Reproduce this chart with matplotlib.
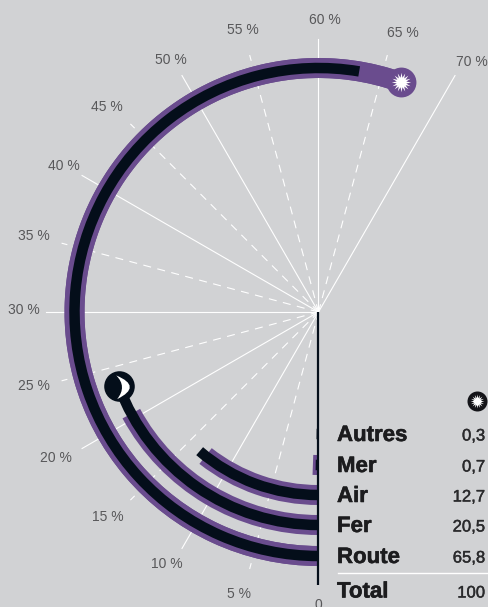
import numpy as np
import matplotlib
matplotlib.use("Agg")
import matplotlib.pyplot as plt
import matplotlib.patheffects as pe
from matplotlib.path import Path

modes = ["Autres", "Mer", "Air", "Fer", "Route"]
jour = [0, 0.7, 12.7, 20.5, 65.8]
nuit = [0.3, 0.35, 13.5, 23.2, 63.2]
rayons = [122, 153, 183, 213, 244]
valeurs = ["0,3", "0,7", "12,7", "20,5", "65,8"]
ticks = [0, 5, 10, 15, 20, 25, 30, 35, 40, 45, 50, 55, 60, 65, 70]
soleil_pos = 66.6
lune_pos = 23.2

BG = "#d1d2d4"
VIOLET = "#6a4c8e"
NOIR = "#040e1a"
W, H = 489, 607
CX, CY = 318.5, 312
RMAX = 318

# decalage des etiquettes en pixels (x, y vers le bas)
decalage = {0: (0, 0), 5: (-4, -1), 10: (-5, -2), 15: (-4, -2), 20: (-9, -1), 25: (-2, -2),
            30: (-2, -2), 35: (-2, 0), 40: (-1, 0), 45: (-4, 2), 50: (-1, 2), 55: (0, 1),
            60: (6, 1), 65: (9, 4), 70: (7, 4)}


def to_theta(p):
    return np.radians(np.asarray(p, dtype=float) * 3)


def croissant():
    verts = [(-0.25, 0.85), (1.8, 0), (-0.18, -0.97), (0.6, 0), (-0.25, 0.85), (-0.25, 0.85)]
    codes = [Path.MOVETO, Path.CURVE3, Path.CURVE3, Path.CURVE3, Path.CURVE3, Path.CLOSEPOLY]
    return Path(verts, codes)


def main():
    fig = plt.figure(figsize=(W / 100, H / 100), dpi=100, facecolor=BG)
    plt.rcParams["font.family"] = ["Liberation Sans", "DejaVu Sans"]
    ax = fig.add_axes([(CX - RMAX) / W, (H - CY - RMAX) / H, 2 * RMAX / W, 2 * RMAX / H],
                      projection="polar")
    ax.set_theta_zero_location("S")
    ax.set_theta_direction(-1)
    ax.set_rlim(0, RMAX)
    ax.axis("off")
    ax.patch.set_visible(False)

    # grille
    for t in ticks[1:]:
        th = to_theta(t)
        if t % 10 == 0:
            ax.plot([th, th], [0, 273], color="white", lw=0.8, zorder=1)
        else:
            ax.plot([th, th], [0, 266], color="white", lw=0.8, zorder=1,
                    dashes=(7.2, 5.8))
    for t in ticks:
        lab = "0" if t == 0 else f"{t} %"
        dx, dy = decalage[t]
        ax.annotate(lab, (to_theta(t), 293), xytext=(dx * 0.72, -dy * 0.72),
                    textcoords="offset points", ha="center", va="center", fontsize=10,
                    color="#58585a", annotation_clip=False)

    # barres
    ax.barh(rayons, to_theta(jour), height=20, left=0, color=VIOLET, lw=0, zorder=2)
    ax.barh(rayons, to_theta(nuit), height=10.5, left=0, color=NOIR, lw=0, zorder=3)
    # prolongement jusqu'au symbole
    ax.barh([244], [to_theta(soleil_pos)], height=20, left=0, color=VIOLET, lw=0, zorder=2)

    ax.plot([0, 0], [0, 273], color=NOIR, lw=1.6, zorder=4, solid_capstyle="butt")

    # soleil et lune
    ax.plot([to_theta(soleil_pos)], [244], "o", ms=21.5, color=VIOLET, mew=0, zorder=5)
    ax.plot([to_theta(soleil_pos)], [244], marker=(16, 1, 0), ms=14, color="white", mew=0, zorder=6)
    ax.plot([to_theta(lune_pos)], [213], "o", ms=22, color=NOIR, mew=0, zorder=5)
    ax.plot([to_theta(lune_pos)], [213], marker=croissant(), ms=33.7, color="white", mew=0, zorder=6)

    # tableau
    ys = [434, 465, 495, 525, 556]
    stroke = [pe.withStroke(linewidth=0.4, foreground="#1c1c1e")]
    stroke2 = [pe.withStroke(linewidth=0.3, foreground="#2a2a2c")]
    for m, v, y in zip(modes, valeurs, ys):
        fig.text(337 / W, 1 - (y + 1.5) / H, m, fontsize=16, fontweight="bold", color="#1c1c1e",
                 va="center", path_effects=stroke)
        fig.text(485 / W, 1 - (y + 2) / H, v, fontsize=12, color="#2a2a2c",
                 va="center", ha="right", path_effects=stroke2)
    fig.text(337 / W, 1 - 592 / H, "Total", fontsize=16, fontweight="bold", color="#1c1c1e",
             va="center", path_effects=stroke)
    fig.text(485 / W, 1 - 593 / H, "100", fontsize=12, color="#2a2a2c",
             va="center", ha="right", path_effects=stroke2)
    fig.add_artist(plt.Line2D([338 / W, 1], [1 - 573 / H, 1 - 573 / H], color="white", lw=1,
                              transform=fig.transFigure))
    fig.add_artist(plt.Line2D([477.5 / W], [1 - 401 / H], marker="o", ms=14.4, color="#141418", mew=0,
                              transform=fig.transFigure))
    fig.add_artist(plt.Line2D([477.5 / W], [1 - 401 / H], marker=(16, 1, 0), ms=10, color="white", mew=0,
                              transform=fig.transFigure))

    fig.savefig("out.png", dpi=100, facecolor=BG)


if __name__ == "__main__":
    main()
